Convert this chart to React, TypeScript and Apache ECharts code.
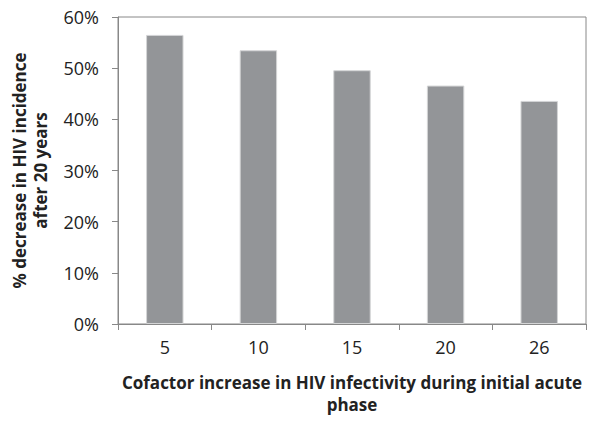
import React, { useEffect, useRef } from "react";
import * as echarts from "echarts";

const categories = ["5", "10", "15", "20", "26"];
const decreaseValues = [0.565, 0.535, 0.496, 0.466, 0.436];
const yTicks = [0, 0.1, 0.2, 0.3, 0.4, 0.5, 0.6];

const FONT = "'Open Sans', 'Noto Sans', sans-serif";

export default function App() {
  const ref = useRef<HTMLDivElement>(null);
  useEffect(() => {
    if (!ref.current) return;
    document.body.style.margin = "0";
    const chart = echarts.init(ref.current, null, { renderer: "svg" });
    chart.setOption({
      animation: false,
      textStyle: { fontFamily: FONT },
      grid: {
        left: 118,
        right: 6,
        top: 17,
        bottom: 97,
        show: true,
        borderColor: "#888888",
        borderWidth: 1,
      },
      xAxis: {
        type: "category",
        data: categories,
        boundaryGap: true,
        name: "Cofactor increase in HIV infectivity during initial acute\nphase",
        nameLocation: "middle",
        nameGap: 47,
        nameTextStyle: {
          fontFamily: FONT,
          fontSize: 17,
          fontWeight: "bold",
          color: "#222222",
          lineHeight: 22,
          verticalAlign: "top",
        },
        axisLine: { lineStyle: { color: "#888888", width: 1 } },
        axisTick: { show: true, length: 6, lineStyle: { color: "#888888" } },
        axisLabel: { fontFamily: FONT, fontSize: 18, color: "#222222", margin: 14 },
      },
      yAxis: {
        type: "value",
        min: yTicks[0],
        max: yTicks[yTicks.length - 1],
        interval: 0.1,
        name: "% decrease in HIV incidence\nafter 20 years",
        nameLocation: "middle",
        nameRotate: 90,
        nameGap: 67,
        nameTextStyle: {
          fontFamily: FONT,
          fontSize: 17,
          fontWeight: "bold",
          color: "#222222",
          lineHeight: 21,
        },
        splitLine: { show: false },
        axisLine: { show: true, lineStyle: { color: "#888888", width: 1 } },
        axisTick: { show: true, length: 6, lineStyle: { color: "#888888" } },
        axisLabel: {
          fontFamily: FONT,
          fontSize: 18,
          color: "#222222",
          margin: 19,
          formatter: (v: number) => Math.round(v * 100) + "%",
        },
      },
      series: [
        {
          type: "bar",
          data: decreaseValues,
          barWidth: "40%",
          itemStyle: { color: "#939598", borderColor: "#d4d5d6", borderWidth: 1 },
        },
      ],
    });
    return () => chart.dispose();
  }, []);
  return (
    <div
      ref={ref}
      style={{ position: "absolute", left: 0, top: 0, width: 592, height: 421 }}
    />
  );
}
